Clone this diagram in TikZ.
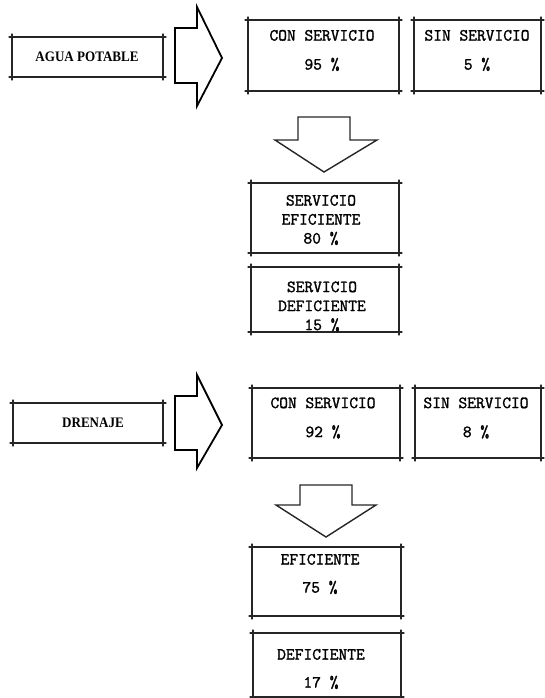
\documentclass[tikz,border=0pt]{standalone}
\usepackage{fontspec}
\newfontfamily\lblfont{Liberation Serif}[FakeStretch=0.9]
\newfontfamily\monob{Latin Modern Mono}[FakeBold=1.6]
\begin{document}
\begin{tikzpicture}[x=1pt,y=-1pt,
  boxline/.style={line width=1.2pt, black!85, line cap=round},
  arrowline/.style={line width=1.8pt, line join=miter, black},
  frame/.style={draw=none, inner sep=0pt, outer sep=0pt},
  mono/.style={font={\monob\fontsize{17}{29}\selectfont}, align=center, inner sep=0pt},
  monotight/.style={font={\monob\fontsize{17}{19}\selectfont}, align=center, inner sep=0pt},
  monomid/.style={font={\monob\fontsize{17}{28}\selectfont}, align=center, inner sep=0pt},
  serifb/.style={font={\lblfont\bfseries\fontsize{14.5}{16}\selectfont}, inner sep=0pt}
]
\useasboundingbox (0,0) rectangle (544,698);

% ---------- frames ----------
\node[frame, minimum width=151pt, minimum height=40pt] (agua) at (87.5,57) {};
\node[frame, minimum width=151pt, minimum height=71pt] (con1) at (323.5,55.5) {};
\node[frame, minimum width=127pt, minimum height=71pt] (sin1) at (477.5,55.5) {};
\node[frame, minimum width=148pt, minimum height=70pt] (efi1) at (325,218) {};
\node[frame, minimum width=148pt, minimum height=65pt] (def1) at (325,299.5) {};
\node[frame, minimum width=150pt, minimum height=40pt] (dren) at (88,423) {};
\node[frame, minimum width=148pt, minimum height=70pt] (con2) at (326,423) {};
\node[frame, minimum width=126pt, minimum height=70pt] (sin2) at (478,423) {};
\node[frame, minimum width=149pt, minimum height=69pt] (efi2) at (326.5,581.5) {};
\node[frame, minimum width=148pt, minimum height=64pt] (def2) at (327,665) {};

\foreach \n in {agua,con1,sin1,efi1,def1,dren,con2,sin2,efi2,def2}{
  \draw[boxline] ([xshift=-3pt]\n.north west) -- ([xshift=3pt]\n.north east);
  \draw[boxline] ([xshift=-3pt]\n.south west) -- ([xshift=3pt]\n.south east);
  \draw[boxline] ([yshift=3pt]\n.north west) -- ([yshift=-3pt]\n.south west);
  \draw[boxline] ([yshift=3pt]\n.north east) -- ([yshift=-3pt]\n.south east);
}

% ---------- texts ----------
\node[serifb] (aguat) at (87,57) {AGUA POTABLE};
\node[serifb] (drent) at (93,423) {DRENAJE};
\node[mono] (con1t) at (322,50.5) {CON SERVICIO\\95 \%};
\node[mono] (sin1t) at (477,50.5) {SIN SERVICIO\\5 \%};
\node[monotight] (efi1t) at (321,220) {SERVICIO\\EFICIENTE\\80 \%};
\node[monotight] (def1t) at (322,306.5) {SERVICIO\\DEFICIENTE\\15 \%};
\node[mono] (con2t) at (323,418) {CON SERVICIO\\92 \%};
\node[mono] (sin2t) at (476,418) {SIN SERVICIO\\8 \%};
\node[monomid] (efi2t) at (320,574) {EFICIENTE\\75 \%};
\node[monomid] (def2t) at (321,669) {DEFICIENTE\\17 \%};

% ---------- block arrows ----------
\draw[arrowline] (175,28) -- (197,28) -- (197,7) -- (222,58) -- (197,106) -- (197,83) -- (175,83) -- cycle;
\draw[arrowline] (175,396) -- (197,396) -- (197,375) -- (222,425) -- (197,468) -- (197,450) -- (175,450) -- cycle;
\draw[boxline, line width=1.4pt] (298,117) -- (350,117) -- (350,140) -- (377,140) -- (324,172) -- (275,140) -- (298,140) -- cycle;
\draw[boxline, line width=1.4pt] (300,485) -- (352,485) -- (352,505) -- (376,505) -- (326,537) -- (276,505) -- (300,505) -- cycle;
\end{tikzpicture}
\end{document}
